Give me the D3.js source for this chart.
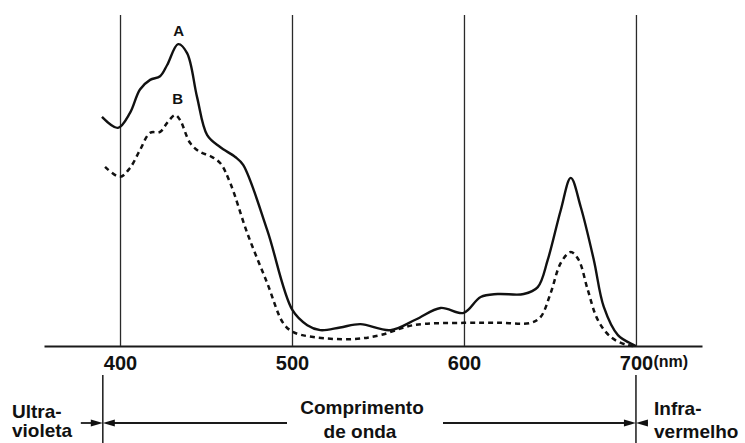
<!DOCTYPE html>
<html>
<head>
<meta charset="utf-8">
<script src="https://cdn.jsdelivr.net/npm/d3@7"></script>
<style>
  html, body { margin: 0; padding: 0; background: #fff; }
  svg { display: block; }
  text { font-family: "Liberation Sans", Arial, sans-serif; font-weight: bold; fill: #111; }
</style>
</head>
<body>
<svg id="chart" width="745" height="443"></svg>
<script>
// ---- data (wavelength in nm, relative absorption) ----
const wavelengthA = [389.5, 398.8, 405.8, 411.6, 417.5, 423.3, 427.4, 433.8, 439, 444.8, 450.7, 458.2, 467, 471.6, 485.6, 500.2, 508.9, 516.5, 528, 539.8, 557.2, 572, 586.4, 599.8, 609.7, 619.6, 634.7, 642.9, 648.7, 656.3, 662.1, 667.9, 675.5, 681.3, 689.5, 698.8, 700];
const absorbA     = [69.2, 65.9, 70.4, 77.5, 80.4, 81.5, 84.9, 91.2, 88.5, 75.2, 63.7, 60.1, 57.1, 54.7, 35.0, 10.9, 6.3, 4.8, 5.6, 6.6, 4.8, 8.0, 11.5, 10.0, 14.8, 15.7, 15.7, 17.8, 26.0, 41.1, 50.8, 42.0, 26.0, 11.8, 3.3, 0.3, 0];

const wavelengthB = [391.3, 400, 405.8, 411.6, 417.5, 423.3, 427.4, 432, 434.9, 440.8, 446.6, 452.4, 458.2, 464.1, 474, 485.6, 494.9, 500.8, 512.4, 535.7, 551.4, 570.6, 599.8, 621.3, 638.8, 644.6, 650.4, 656.3, 662.1, 666.7, 672, 677.8, 685.4, 694.8, 700];
const absorbB     = [54.1, 51.1, 53.8, 59.2, 64.4, 64.7, 67.4, 69.8, 68.3, 61.3, 58.6, 57.4, 55.3, 49.2, 34.1, 19.0, 6.9, 4.2, 2.7, 2.1, 3.3, 6.3, 7.0, 7.0, 7.0, 8.8, 16.0, 25.1, 28.4, 26.0, 16.9, 7.9, 2.7, 0.3, 0];

const tickValues = [400, 500, 600, 700];
const tickLabels = ["400", "500", "600", "700"];
const unitLabel = "(nm)";
const seriesNames = ["A", "B"];
const seriesLabelAt = [433.5, 433];           // wavelength where the curve name sits
const regionBounds = [390, 700];              // UV / IR boundaries
const regionLabels = { left: ["Ultra-", "violeta"], mid: ["Comprimento", "de onda"], right: ["Infra-", "vermelho"] };

// ---- layout ----
const svg = d3.select("#chart");
const x = d3.scaleLinear().domain([355.8, 738.4]).range([44, 702]);
const y = d3.scaleLinear().domain([0, 100]).range([346, 15]);
const baseY = y(0), topY = y(100);

// axis with full-height grid lines
const axis = d3.axisBottom(x)
  .tickValues(tickValues)
  .tickFormat((d, i) => tickLabels[i])
  .tickSizeInner(-(baseY - topY))
  .tickSizeOuter(0)
  .tickPadding(10);

const gAxis = svg.append("g").attr("transform", `translate(0,${baseY})`).call(axis);
gAxis.select(".domain").attr("stroke", "#1a1a1a").attr("stroke-width", 1.8);
gAxis.selectAll(".tick line").attr("stroke", "#2a2a2a").attr("stroke-width", 1.3);
gAxis.selectAll(".tick text")
  .attr("font-family", "Liberation Sans, Arial, sans-serif")
  .attr("font-weight", "bold")
  .attr("font-size", 20)
  .attr("fill", "#111");
gAxis.selectAll(".tick").filter(d => d === 700)
  .append("text")
  .attr("x", 17).attr("y", 10).attr("dy", "0.71em")
  .attr("text-anchor", "start")
  .attr("font-family", "Liberation Sans, Arial, sans-serif")
  .attr("font-weight", "bold")
  .attr("font-size", 16)
  .attr("fill", "#111")
  .text(unitLabel);

// curves
const line = d3.line().x(d => x(d[0])).y(d => y(d[1])).curve(d3.curveCatmullRom.alpha(0.5));
const dataA = wavelengthA.map((w, i) => [w, absorbA[i]]);
const dataB = wavelengthB.map((w, i) => [w, absorbB[i]]);

svg.append("path").datum(dataB).attr("d", line)
  .attr("fill", "none").attr("stroke", "#111").attr("stroke-width", 2.5)
  .attr("stroke-dasharray", "5,4");
svg.append("path").datum(dataA).attr("d", line)
  .attr("fill", "none").attr("stroke", "#111").attr("stroke-width", 2.4)
  .attr("stroke-linejoin", "round");

// series names above peaks
svg.append("text").attr("x", x(seriesLabelAt[0]) + 1).attr("y", 36)
  .attr("text-anchor", "middle").attr("font-size", 15).text(seriesNames[0]);
svg.append("text").attr("x", x(seriesLabelAt[1]) + 1).attr("y", 104)
  .attr("text-anchor", "middle").attr("font-size", 15).text(seriesNames[1]);

// ---- lower annotation ----
const xl = x(regionBounds[0]), xr = x(regionBounds[1]);
const ay = 423;
[xl, xr].forEach(xx => {
  svg.append("line").attr("x1", xx).attr("x2", xx).attr("y1", 375).attr("y2", 443)
    .attr("stroke", "#1a1a1a").attr("stroke-width", 1.5);
});
function arrow(x1, x2) {
  // line from x1 to tip x2 with a filled head at x2
  const dir = x2 > x1 ? 1 : -1;
  const len = 12, half = 3.5;
  svg.append("line").attr("x1", x1).attr("x2", x2 - dir * len * 0.6).attr("y1", ay).attr("y2", ay)
    .attr("stroke", "#1a1a1a").attr("stroke-width", 1.8);
  svg.append("path")
    .attr("d", `M${x2},${ay} L${x2 - dir * len},${ay - half} L${x2 - dir * len},${ay + half} Z`)
    .attr("fill", "#111");
}
arrow(xl - 22, xl);
arrow(287, xl);
arrow(443, xr);
arrow(xr + 12, xr);

const fs = 19;
svg.append("text").attr("x", 12).attr("y", 418).attr("font-size", fs).text(regionLabels.left[0]);
svg.append("text").attr("x", 12).attr("y", 437).attr("font-size", fs).text(regionLabels.left[1]);
svg.append("text").attr("x", 362).attr("y", 414).attr("text-anchor", "middle").attr("font-size", fs).text(regionLabels.mid[0]);
svg.append("text").attr("x", 360).attr("y", 438).attr("text-anchor", "middle").attr("font-size", fs).text(regionLabels.mid[1]);
svg.append("text").attr("x", 654).attr("y", 415).attr("font-size", fs).text(regionLabels.right[0]);
svg.append("text").attr("x", 654).attr("y", 438).attr("font-size", fs).text(regionLabels.right[1]);
</script>
</body>
</html>
